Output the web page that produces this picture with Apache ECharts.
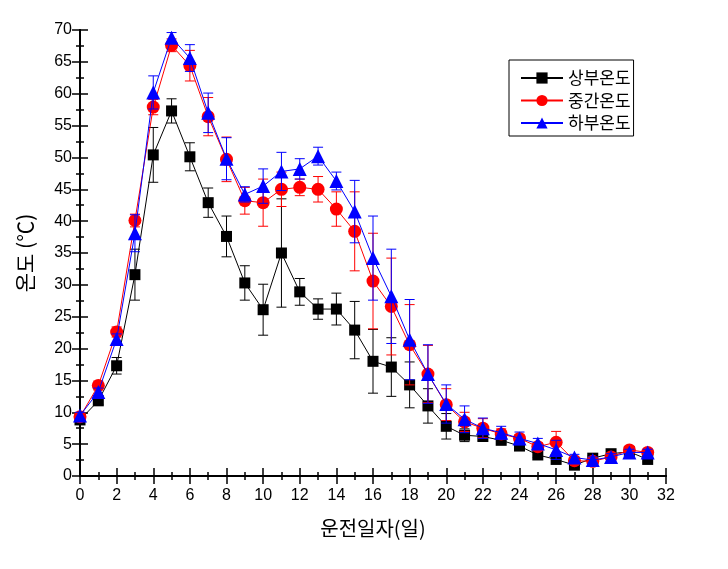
<!DOCTYPE html>
<html><head><meta charset="utf-8">
<script src="https://cdn.jsdelivr.net/npm/echarts@6/dist/echarts.min.js"></script>
<style>html,body{margin:0;padding:0;background:#fff}#c{width:728px;height:569px}</style>
</head><body><div id="c"></div>
<script>
const days = [0,1,2,3,4,5,6,7,8,9,10,11,12,13,14,15,16,17,18,19,20,21,22,23,24,25,26,27,28,29,30,31];
const upperMean = [8.8,11.8,17.3,31.6,50.4,57.3,50.1,42.9,37.6,30.3,26.1,35.0,28.9,26.2,26.2,22.9,18.0,17.1,14.3,11.0,7.8,6.4,6.2,5.6,4.7,3.3,2.6,1.7,2.8,3.5,3.8,2.6];
const upperErr  = [0.5,0.6,1.3,4.0,4.3,1.9,2.2,2.3,3.2,2.7,4.0,8.5,2.1,1.6,2.5,4.5,5.0,4.6,3.6,2.7,2.0,1.0,0.6,0.5,0.4,0.4,0.5,0.4,0.4,0.4,0.4,0.4];
const middleMean = [9.3,14.2,22.6,40.1,57.9,67.6,64.4,56.4,49.7,43.2,42.9,45.0,45.3,45.0,41.9,38.4,30.6,26.6,20.6,16.0,11.2,8.5,7.5,6.6,5.9,4.6,5.3,2.4,2.3,3.0,4.1,3.7];
const middleErr  = [0.6,0.7,0.8,1.0,1.2,1.0,2.4,3.0,3.5,2.1,3.7,2.7,1.3,2.0,2.7,6.2,7.5,7.6,6.3,4.5,2.5,1.5,1.5,0.8,0.6,0.6,1.7,0.5,0.5,0.5,0.5,0.5];
const lowerMean = [9.5,13.2,21.5,38.1,60.2,68.8,65.6,57.0,49.8,44.2,45.5,47.8,48.2,50.2,46.3,41.5,34.2,28.2,21.4,16.0,11.3,8.9,7.5,6.8,5.9,5.1,4.1,2.9,2.5,3.0,3.7,3.7];
const lowerErr  = [0.5,0.6,0.8,2.9,2.6,0.8,2.1,3.1,3.3,1.2,2.7,3.0,1.6,1.4,1.4,4.9,6.6,7.4,6.3,4.6,3.0,2.1,1.6,1.0,1.0,0.8,1.5,0.5,0.5,0.5,0.5,0.5];
const xTicks = {min:0, max:32, interval:2};
const yTicks = {min:0, max:70, interval:5};
const names = ['상부온도','중간온도','하부온도'];

const chart = echarts.init(document.getElementById('c'));
const colors = ['#000000','#ff0000','#0000ff'];
const symbols = ['rect','circle','triangle'];
const symSizes = [11,13,14];
const means = [upperMean, middleMean, lowerMean];
const errs = [upperErr, middleErr, lowerErr];

function errSeries(k){
  const data = days.map((d,i)=>[d, means[k][i]-errs[k][i], means[k][i]+errs[k][i]]);
  return {
    type:'custom', name:'err'+k, data:data, z:2+k*2,
    encode:{x:0, y:[1,2]},
    renderItem:function(params, api){
      const x=api.value(0), lo=api.value(1), hi=api.value(2);
      const p1=api.coord([x,hi]), p2=api.coord([x,lo]);
      const w=5, st={stroke:colors[k], lineWidth:1};
      return {type:'group', children:[
        {type:'line', shape:{x1:p1[0],y1:p1[1],x2:p2[0],y2:p2[1]}, style:st},
        {type:'line', shape:{x1:p1[0]-w,y1:p1[1],x2:p1[0]+w,y2:p1[1]}, style:st},
        {type:'line', shape:{x1:p2[0]-w,y1:p2[1],x2:p2[0]+w,y2:p2[1]}, style:st}
      ]};
    }
  };
}
function lineSeries(k){
  return {
    type:'line', name:names[k], data:days.map((d,i)=>[d, means[k][i]]),
    z:3+k*2, symbol:symbols[k], symbolSize:symSizes[k],
    lineStyle:{color:colors[k], width:1}, itemStyle:{color:colors[k]},
    showSymbol:true, animation:false
  };
}
const axisFont = {fontFamily:'Liberation Sans, Arial', fontSize:16, color:'#000'};
const series = [];
for (let k=0;k<3;k++){ series.push(errSeries(k)); series.push(lineSeries(k)); }

chart.setOption({
  animation:false,
  backgroundColor:'#fff',
  grid:{left:80, right:62, top:30, bottom:93, containLabel:false},
  legend:{
    data:names,
    orient:'vertical', left:509, top:60, itemWidth:42, itemHeight:14, itemGap:0.5, itemTextGap:5,
    borderColor:'#000', borderWidth:1, borderRadius:0, padding:[7,3,2,11],
    textStyle:{fontFamily:'Noto Sans CJK KR', fontSize:17, lineHeight:22, color:'#000'}
  },
  xAxis:[{
    type:'value', min:xTicks.min, max:xTicks.max, interval:xTicks.interval,
    name:'운전일자(일)', nameLocation:'middle', nameGap:42,
    nameTextStyle:{fontFamily:'Noto Sans CJK KR', fontSize:20, color:'#000'},
    axisLine:{lineStyle:{color:'#000', width:2}},
    axisTick:{inside:true, length:8, lineStyle:{color:'#000', width:1.5}},
    minorTick:{show:true, splitNumber:2, length:4, lineStyle:{color:'#000', width:1.5}},
    axisLabel:Object.assign({margin:12}, axisFont),
    splitLine:{show:false}
  },{
    type:'value', position:'top', min:xTicks.min, max:xTicks.max, interval:xTicks.interval,
    axisLine:{lineStyle:{color:'#000', width:2}},
    axisTick:{inside:true, length:8, lineStyle:{color:'#000', width:1.5}},
    minorTick:{show:true, splitNumber:2, length:4, lineStyle:{color:'#000', width:1.5}},
    axisLabel:{show:false}, splitLine:{show:false}
  }],
  yAxis:[{
    type:'value', min:yTicks.min, max:yTicks.max, interval:yTicks.interval,
    name:'온도 (℃)', nameLocation:'middle', nameGap:44, nameRotate:90,
    nameTextStyle:{fontFamily:'Noto Sans CJK KR', fontSize:21, color:'#000'},
    axisLine:{lineStyle:{color:'#000', width:2}},
    axisTick:{inside:true, length:8, lineStyle:{color:'#000', width:1.5}},
    minorTick:{show:true, splitNumber:2, length:4, lineStyle:{color:'#000', width:1.5}},
    axisLabel:Object.assign({margin:8}, axisFont),
    splitLine:{show:false}
  },{
    type:'value', position:'right', min:yTicks.min, max:yTicks.max, interval:yTicks.interval,
    axisLine:{lineStyle:{color:'#000', width:2}},
    axisTick:{inside:true, length:8, lineStyle:{color:'#000', width:1.5}},
    minorTick:{show:true, splitNumber:2, length:4, lineStyle:{color:'#000', width:1.5}},
    axisLabel:{show:false}, splitLine:{show:false}
  }],
  series:series
});
</script></body></html>
